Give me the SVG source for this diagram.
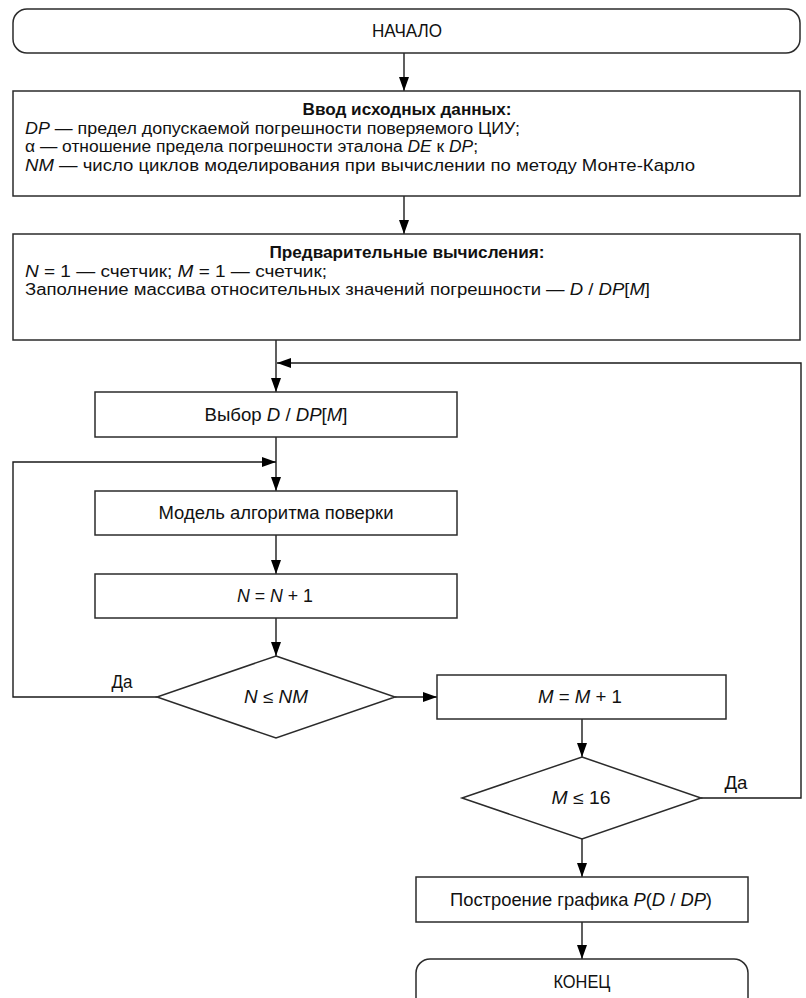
<svg xmlns="http://www.w3.org/2000/svg" width="806" height="998" viewBox="0 0 806 998">
<style>
.box{fill:#fff;stroke:#2b2b2b;stroke-width:1.5}
.ln{fill:none;stroke:#1a1a1a;stroke-width:1.4}
text{font-family:"Liberation Sans Narrow","Liberation Sans",Arial,sans-serif;font-size:17.5px;fill:#111}
.t{font-size:16px}
.c{text-anchor:middle}
.b{font-weight:bold}
.i{font-style:italic}
</style>
<defs>
<marker id="ah" viewBox="0 0 14 10" refX="14" refY="5" markerWidth="14" markerHeight="10" markerUnits="userSpaceOnUse" orient="auto"><path d="M0,0 L14,5 L0,10 z" fill="#000"/></marker>
</defs>
<rect width="806" height="998" fill="#fff"/>
<g id="connectors">
<path class="ln" d="M404,53 V91" marker-end="url(#ah)"/>
<path class="ln" d="M404,196 V234" marker-end="url(#ah)"/>
<path class="ln" d="M276,340 V392" marker-end="url(#ah)"/>
<path class="ln" d="M276,437 V491" marker-end="url(#ah)"/>
<path class="ln" d="M276,535 V574" marker-end="url(#ah)"/>
<path class="ln" d="M276,618 V656" marker-end="url(#ah)"/>
<path class="ln" d="M157,697 H13 V462 H276" marker-end="url(#ah)"/>
<path class="ln" d="M395,697 H437" marker-end="url(#ah)"/>
<path class="ln" d="M582,719 V757" marker-end="url(#ah)"/>
<path class="ln" d="M701,798 H801 V363 H277" marker-end="url(#ah)"/>
<path class="ln" d="M582,839 V877" marker-end="url(#ah)"/>
<path class="ln" d="M582,922 V959" marker-end="url(#ah)"/>
<text x="122" y="688" class="c" textLength="21" lengthAdjust="spacingAndGlyphs">Да</text>
<text x="736" y="789" class="c" textLength="23" lengthAdjust="spacingAndGlyphs">Да</text>
</g>
<g id="start">
<rect class="box" x="13" y="9" width="787" height="44" rx="14"/>
<text x="407" y="37" class="c" textLength="70" lengthAdjust="spacingAndGlyphs">НАЧАЛО</text>
</g>
<g id="input">
<rect class="box" x="13" y="91" width="787" height="105"/>
<text x="407" y="115" class="t c b" textLength="209" lengthAdjust="spacingAndGlyphs">Ввод исходных данных:</text>
<text x="25" y="133.5" class="t" textLength="495" lengthAdjust="spacingAndGlyphs"><tspan class="i">DP</tspan> — предел допускаемой погрешности поверяемого ЦИУ;</text>
<text x="25" y="152" class="t" textLength="453" lengthAdjust="spacingAndGlyphs">α — отношение предела погрешности эталона <tspan class="i">DE</tspan> к <tspan class="i">DP</tspan>;</text>
<text x="25" y="170.5" class="t" textLength="670" lengthAdjust="spacingAndGlyphs"><tspan class="i">NM</tspan> — число циклов моделирования при вычислении по методу Монте-Карло</text>
</g>
<g id="prelim">
<rect class="box" x="13" y="234" width="787" height="106"/>
<text x="407" y="258" class="t c b" textLength="275" lengthAdjust="spacingAndGlyphs">Предварительные вычисления:</text>
<text x="25" y="276.5" class="t" textLength="302" lengthAdjust="spacingAndGlyphs"><tspan class="i">N</tspan> = 1 — счетчик; <tspan class="i">M</tspan> = 1 — счетчик;</text>
<text x="25" y="295" class="t" textLength="625" lengthAdjust="spacingAndGlyphs">Заполнение массива относительных значений погрешности — <tspan class="i">D</tspan> / <tspan class="i">DP</tspan>[<tspan class="i">M</tspan>]</text>
</g>
<g id="select">
<rect class="box" x="95" y="392" width="362" height="45"/>
<text x="276" y="421" class="c" textLength="143" lengthAdjust="spacingAndGlyphs">Выбор <tspan class="i">D</tspan> / <tspan class="i">DP</tspan>[<tspan class="i">M</tspan>]</text>
</g>
<g id="model">
<rect class="box" x="95" y="491" width="362" height="44"/>
<text x="276" y="519" class="c" textLength="235" lengthAdjust="spacingAndGlyphs">Модель алгоритма поверки</text>
</g>
<g id="incN">
<rect class="box" x="95" y="574" width="362" height="44"/>
<text x="275" y="602" class="c" textLength="76" lengthAdjust="spacingAndGlyphs"><tspan class="i">N</tspan> = <tspan class="i">N</tspan> + 1</text>
</g>
<g id="condN">
<polygon class="box" points="276,656 395,697 276,738 157,697"/>
<text x="276" y="703" class="c" textLength="64" lengthAdjust="spacingAndGlyphs"><tspan class="i">N</tspan> ≤ <tspan class="i">NM</tspan></text>
</g>
<g id="incM">
<rect class="box" x="437" y="675" width="289" height="44"/>
<text x="580" y="703" class="c" textLength="84" lengthAdjust="spacingAndGlyphs"><tspan class="i">M</tspan> = <tspan class="i">M</tspan> + 1</text>
</g>
<g id="condM">
<polygon class="box" points="582,757 701,798 582,839 462,798"/>
<text x="581" y="804" class="c" textLength="59" lengthAdjust="spacingAndGlyphs"><tspan class="i">M</tspan> ≤ 16</text>
</g>
<g id="plot">
<rect class="box" x="416" y="877" width="332" height="45"/>
<text x="581" y="906" class="c" textLength="262" lengthAdjust="spacingAndGlyphs">Построение графика <tspan class="i">P</tspan>(<tspan class="i">D</tspan> / <tspan class="i">DP</tspan>)</text>
</g>
<g id="end">
<rect class="box" x="416" y="959" width="332" height="60" rx="14"/>
<text x="582" y="988" class="c" textLength="57" lengthAdjust="spacingAndGlyphs">КОНЕЦ</text>
</g>
</svg>
